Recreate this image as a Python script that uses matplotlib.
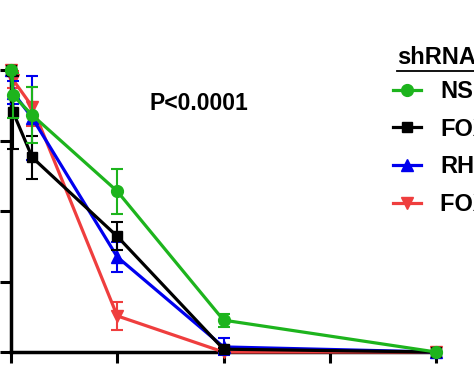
import matplotlib.pyplot as plt
from matplotlib.lines import Line2D

plt.rcParams["font.family"] = ["Liberation Sans", "DejaVu Sans"]

dose = [0, 0.1, 1, 5, 10, 20]
x_ticks = [0, 5, 10, 15, 20]
y_ticks = [0, 25, 50, 75, 100]

ns = [100, 91, 84, 57, 11.3, 0]
ns_err = [0, 8, 10, 8, 2.3, 0]
foxo = [100, 85, 69, 41, 1, 0]
foxo_err = [0, 13, 7.5, 5, 0.5, 0]
rho = [100, 92, 83, 33.7, 1.8, 0]
rho_err = [0, 4, 15, 5.3, 3, 0]
combo = [100, 96.5, 87, 12.8, 0, 0]
combo_err = [0, 3, 7, 5, 0, 0]

labels = ["NS", "FOXO1", "RHOA", "FOXO1 + RHOA"]

fig = plt.figure(figsize=(4.74, 3.65), dpi=100)
W, H = 474, 365
ax = fig.add_axes([11 / W, 13 / H, (436 - 11) / W, (352 - 70) / H])

green = "#1db41d"
red = "#ef3e3e"
blue = "#0000ee"

series = [
    (combo, combo_err, red, "v", 8.5, 3),
    (rho, rho_err, blue, "^", 8.5, 2),
    (foxo, foxo_err, "black", "s", 7.5, 1),
    (ns, ns_err, green, "o", 8.5, 0),
]
handles = [None] * 4
for y, err, col, mk, ms, idx in series:
    ax.errorbar(dose, y, yerr=err, color=col, marker=mk, markersize=ms,
                lw=2.3, elinewidth=1.5, capsize=4.5, capthick=1.5,
                clip_on=False, zorder=3 + (3 - idx))
    handles[idx] = Line2D([], [], color=col, marker=mk, markersize=ms, lw=2.3)

ax.set_xlim(0, 20)
ax.set_ylim(0, 100)
ax.set_xticks(x_ticks)
ax.set_yticks(y_ticks)
ax.spines["top"].set_visible(False)
ax.spines["right"].set_visible(False)
for s in ("left", "bottom"):
    ax.spines[s].set_linewidth(2.5)
# tick labels lie outside the visible crop
ax.tick_params(width=2.2, length=8, labelleft=False, labelbottom=False)

ax.text(6.5, 88, "P<0.0001", fontsize=16.5, fontweight="bold", ha="left", va="center")

fig.text(397 / W, 1 - 58 / H, "shRNA", fontsize=17, fontweight="bold", ha="left", va="center")
fig.add_artist(Line2D([397 / W, 480 / W], [1 - 71 / H] * 2, color="black", lw=1.3))

fig.legend(handles, labels, loc="upper left", bbox_to_anchor=(393 / W, 1 - 80 / H),
           frameon=False, prop={"weight": "bold", "size": 17},
           handlelength=1.2, handletextpad=0.8, labelspacing=0.62,
           borderpad=0, borderaxespad=0)

fig.savefig("out.png", dpi=100)
